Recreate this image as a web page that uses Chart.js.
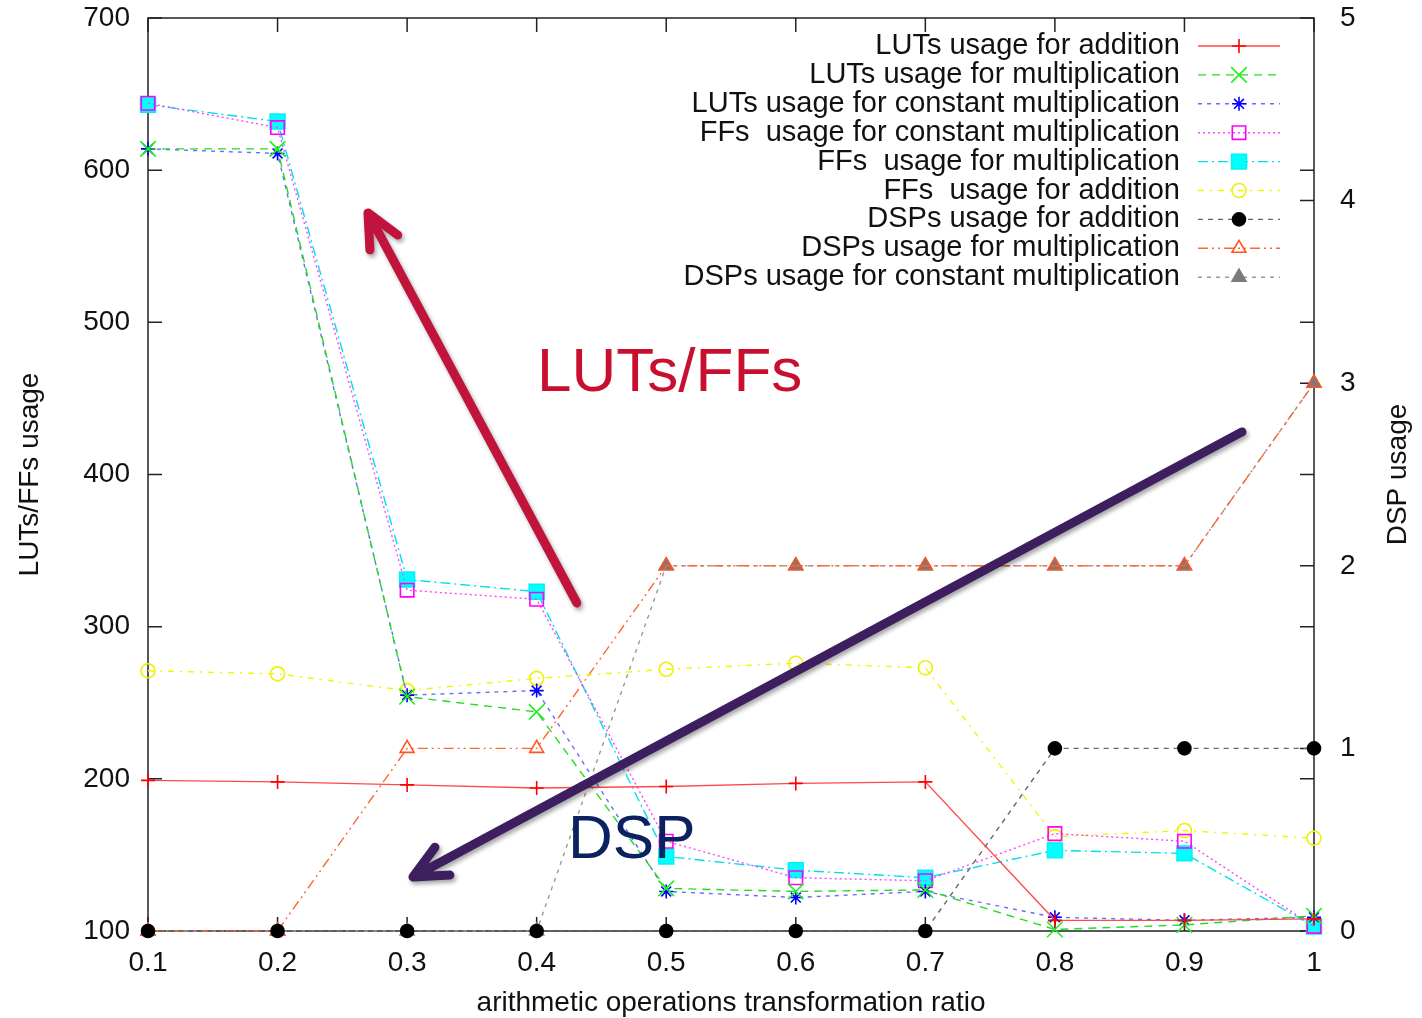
<!DOCTYPE html>
<html>
<head>
<meta charset="utf-8">
<script src="https://cdn.jsdelivr.net/npm/chart.js@4.4.1/dist/chart.umd.min.js"></script>
<style>
  html, body { margin: 0; padding: 0; background: #fff; }
  #wrap { width: 1422px; height: 1018px; }
</style>
</head>
<body>
<div id="wrap"><canvas id="chart"></canvas></div>
<script>
// values
const ratios = [0.1, 0.2, 0.3, 0.4, 0.5, 0.6, 0.7, 0.8, 0.9, 1]
const xTicks = [0.1, 0.2, 0.3, 0.4, 0.5, 0.6, 0.7, 0.8, 0.9, 1]
const leftTicks = [100, 200, 300, 400, 500, 600, 700]
const rightTicks = [0, 1, 2, 3, 4, 5]

const lutsAdd = [199, 198, 196, 194, 195, 197, 198, 107, 107, 108]
const lutsMul = [614, 614, 254, 244, 128, 126, 127, 101, 104, 110]
const lutsConstMul = [614, 611, 255, 258, 126, 122, 126, 109, 107, 109]
const ffsConstMul = [644, 628, 324, 318, 159, 135, 133, 164, 159, 103]
const ffsMul = [643, 632, 331, 323, 149, 140, 135, 153, 151, 103]
const ffsAdd = [271, 269, 258, 266, 272, 276, 273, 162, 166, 161]
const dspAdd = [0, 0, 0, 0, 0, 0, 0, 1, 1, 1]
const dspMul = [0, 0, 1, 1, 2, 2, 2, 2, 2, 3]
const dspConstMul = [0, 0, 0, 0, 2, 2, 2, 2, 2, 3]

// hand-drawn annotations, in data units (x, left axis)
const arrows = [
  { from: [0.431, 315.6], to: [0.2698, 571.9], color: '#c0143c' },
  { from: [0.9444, 428], to: [0.3045, 135.5], color: '#3d1e5e' }
]
const notes = [
  { text: 'LUTs/FFs', at: [0.4003, 454.9], color: '#c8102e' },
  { text: 'DSP', at: [0.4242, 148], color: '#0c2260' }
]

const FONT = '"Liberation Sans", Arial, sans-serif'
const pts = arr => arr.map((v, i) => ({ x: ratios[i], y: v }))

function series(label, values, axis, line, dash, style, radius, stroke, fill) {
  return {
    label, data: pts(values), yAxisID: axis,
    borderColor: line, borderWidth: 1.4, borderDash: dash,
    pointStyle: style, pointRadius: radius, pointBorderWidth: 1.6,
    pointBorderColor: stroke, pointBackgroundColor: fill || 'rgba(0,0,0,0)',
    tension: 0, clip: false, fill: false
  }
}

const datasets = [
  series('LUTs usage for addition', lutsAdd, 'y', '#ff4a4a', [], 'cross', 7, '#ff0000'),
  series('LUTs usage for multiplication', lutsMul, 'y', '#22dd22', [8, 6], 'crossRot', 11, '#22ee22'),
  series('LUTs usage for constant multiplication', lutsConstMul, 'y', '#6a6aff', [4, 5], 'star', 7, '#0000ff'),
  series('FFs  usage for constant multiplication', ffsConstMul, 'y', '#ff44ff', [2, 3], 'rect', 9.5, '#ff00ff'),
  series('FFs  usage for multiplication', ffsMul, 'y', '#00e0ea', [10, 4, 2, 4], 'rect', 10.5, '#00f2f2', '#00ffff'),
  series('FFs  usage for addition', ffsAdd, 'y', '#f4f400', [6, 6, 2, 6], 'circle', 7, '#f0f000'),
  series('DSPs usage for addition', dspAdd, 'y2', '#666666', [5, 5], 'circle', 6.5, '#000000', '#000000'),
  series('DSPs usage for multiplication', dspMul, 'y2', '#ff6633', [10, 4, 2, 4, 2, 4], 'triangle', 8, '#ff5522'),
  series('DSPs usage for constant multiplication', dspConstMul, 'y2', '#9a9a9a', [4, 5], 'triangle', 8, '#7a7a7a', '#7a7a7a')
]

function marker(ctx, ds, x, y) {
  ctx.save()
  ctx.setLineDash([])
  ctx.strokeStyle = ds.pointBorderColor
  ctx.fillStyle = ds.pointBackgroundColor
  ctx.lineWidth = ds.pointBorderWidth
  Chart.helpers.drawPoint(ctx, { pointStyle: ds.pointStyle, radius: ds.pointRadius, rotation: 0, borderWidth: ds.pointBorderWidth }, x, y)
  ctx.restore()
}

const framePlugin = {
  id: 'frame',
  beforeDatasetsDraw(chart) {
    const { ctx, chartArea: a, scales } = chart
    const len = 14
    ctx.save()
    ctx.strokeStyle = '#222'
    ctx.lineWidth = 1.5
    ctx.beginPath()
    xTicks.forEach(v => {
      const px = scales.x.getPixelForValue(v)
      ctx.moveTo(px, a.bottom); ctx.lineTo(px, a.bottom - len)
      ctx.moveTo(px, a.top); ctx.lineTo(px, a.top + len)
    })
    leftTicks.forEach(v => {
      const py = scales.y.getPixelForValue(v)
      ctx.moveTo(a.left, py); ctx.lineTo(a.left + len, py)
      ctx.moveTo(a.right, py); ctx.lineTo(a.right - len, py)
    })
    rightTicks.forEach(v => {
      const py = scales.y2.getPixelForValue(v)
      ctx.moveTo(a.right, py); ctx.lineTo(a.right - len, py)
    })
    ctx.stroke()
    ctx.strokeRect(a.left, a.top, a.right - a.left, a.bottom - a.top)
    ctx.restore()
  }
}

const overlayPlugin = {
  id: 'overlay',
  afterDraw(chart) {
    const { ctx, chartArea: a, scales } = chart
    ctx.save()

    // legend, top right inside the frame
    ctx.font = '29px ' + FONT
    ctx.textAlign = 'right'
    ctx.textBaseline = 'middle'
    chart.data.datasets.forEach((ds, i) => {
      const y = a.top + 28 + i * 28.9
      ctx.fillStyle = '#111'
      ctx.fillText(ds.label, a.right - 134, y)
      ctx.save()
      ctx.strokeStyle = ds.borderColor
      ctx.lineWidth = ds.borderWidth
      ctx.setLineDash(ds.borderDash)
      ctx.beginPath()
      ctx.moveTo(a.right - 116, y)
      ctx.lineTo(a.right - 34, y)
      ctx.stroke()
      ctx.restore()
      marker(ctx, ds, a.right - 75, y)
    })

    // right axis title, reading bottom to top
    ctx.save()
    ctx.translate(a.right + 84, (a.top + a.bottom) / 2)
    ctx.rotate(-Math.PI / 2)
    ctx.textAlign = 'center'
    ctx.fillStyle = '#111'
    ctx.font = '28px ' + FONT
    ctx.fillText('DSP usage', 0, 0)
    ctx.restore()

    // annotation arrows
    arrows.forEach(ar => {
      const x0 = scales.x.getPixelForValue(ar.from[0]), y0 = scales.y.getPixelForValue(ar.from[1])
      const x1 = scales.x.getPixelForValue(ar.to[0]), y1 = scales.y.getPixelForValue(ar.to[1])
      const ang = Math.atan2(y0 - y1, x0 - x1)
      const arm = 37, spread = 0.44
      ctx.save()
      ctx.shadowColor = 'rgba(0,0,0,0.35)'
      ctx.shadowBlur = 4
      ctx.shadowOffsetX = 2
      ctx.shadowOffsetY = 3
      ctx.strokeStyle = ar.color
      ctx.lineWidth = 9
      ctx.lineCap = 'round'
      ctx.lineJoin = 'round'
      ctx.beginPath()
      ctx.moveTo(x0, y0)
      ctx.lineTo(x1, y1)
      ctx.moveTo(x1 + arm * Math.cos(ang + spread), y1 + arm * Math.sin(ang + spread))
      ctx.lineTo(x1, y1)
      ctx.lineTo(x1 + arm * Math.cos(ang - spread), y1 + arm * Math.sin(ang - spread))
      ctx.stroke()
      ctx.restore()
    })

    notes.forEach(n => {
      ctx.font = '62px ' + FONT
      ctx.textAlign = 'left'
      ctx.textBaseline = 'alphabetic'
      ctx.fillStyle = n.color
      ctx.fillText(n.text, scales.x.getPixelForValue(n.at[0]), scales.y.getPixelForValue(n.at[1]))
    })
    ctx.restore()
  }
}

new Chart(document.querySelector('#chart'), {
  type: 'line',
  data: { datasets },
  plugins: [framePlugin, overlayPlugin],
  options: {
    responsive: true,
    maintainAspectRatio: false,
    animation: false,
    devicePixelRatio: 1,
    layout: { padding: { top: 18, left: 0, right: 0, bottom: 0 } },
    plugins: { legend: { display: false }, tooltip: { enabled: false } },
    scales: {
      x: {
        type: 'linear', min: 0.1, max: 1,
        afterBuildTicks: s => { s.ticks = xTicks.map(v => ({ value: v })) },
        afterFit: s => { s.height = 87; s.paddingLeft = 0; s.paddingRight = 0 },
        grid: { display: false, drawTicks: false },
        border: { display: false },
        ticks: { padding: 15, color: '#111', font: { family: FONT, size: 28 }, callback: v => String(v) },
        title: { display: true, text: 'arithmetic operations transformation ratio', color: '#111', font: { family: FONT, size: 28 }, padding: { top: 0, bottom: -2 } }
      },
      y: {
        position: 'left', min: 100, max: 700,
        afterBuildTicks: s => { s.ticks = leftTicks.map(v => ({ value: v })) },
        afterFit: s => { s.width = 148; s.paddingTop = 0; s.paddingBottom = 0 },
        grid: { display: false, drawTicks: false },
        border: { display: false },
        ticks: { padding: 18, color: '#111', font: { family: FONT, size: 28 } },
        title: { display: true, text: 'LUTs/FFs usage', color: '#111', font: { family: FONT, size: 28 }, padding: { top: 13, bottom: 0 } }
      },
      y2: {
        position: 'right', min: 0, max: 5,
        afterBuildTicks: s => { s.ticks = rightTicks.map(v => ({ value: v })) },
        afterFit: s => { s.width = 108; s.paddingTop = 0; s.paddingBottom = 0 },
        grid: { display: false, drawTicks: false },
        border: { display: false },
        ticks: { padding: 26, color: '#111', font: { family: FONT, size: 28 } }
      }
    }
  }
})
</script>
</body>
</html>
